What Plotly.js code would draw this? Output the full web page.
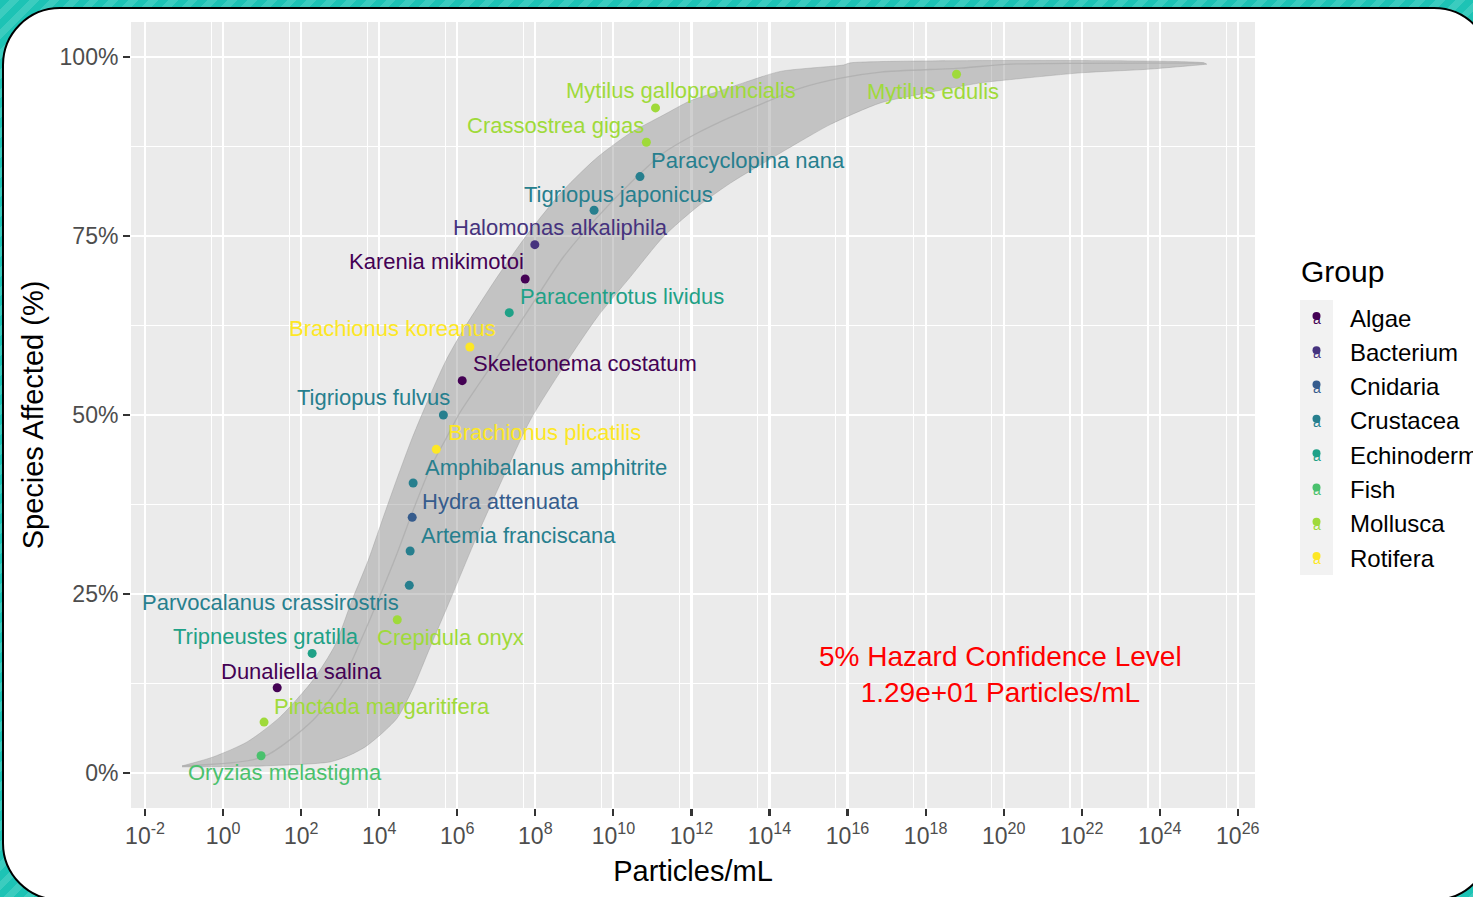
<!DOCTYPE html>
<html><head><meta charset="utf-8">
<script src="https://cdn.plot.ly/plotly-3.0.1.min.js"></script>
<style>
html,body{margin:0;padding:0;width:1473px;height:897px;overflow:hidden;}
body{background:repeating-linear-gradient(135deg,#1dc3b5 0px,#1dc3b5 7px,#3bccbf 7px,#3bccbf 14px);}
#frame{position:absolute;left:2px;top:7px;width:1490px;height:894px;box-sizing:border-box;border:2.5px solid #000;border-radius:58px;background:#fff;}
#chart{position:absolute;left:0;top:0;width:1473px;height:897px;}
</style></head><body>
<div id="frame"></div><div id="chart"></div>
<script>
// ---------- data ----------
const species = ['Oryzias melastigma','Pinctada margaritifera','Dunaliella salina','Tripneustes gratilla','Crepidula onyx','Parvocalanus crassirostris','Artemia franciscana','Hydra attenuata','Amphibalanus amphitrite','Brachionus plicatilis','Tigriopus fulvus','Skeletonema costatum','Brachionus koreanus','Paracentrotus lividus','Karenia mikimotoi','Halomonas alkaliphila','Tigriopus japonicus','Paracyclopina nana','Crassostrea gigas','Mytilus galloprovincialis','Mytilus edulis'];
const groups = ['Fish','Mollusca','Algae','Echinoderm','Mollusca','Crustacea','Crustacea','Cnidaria','Crustacea','Rotifera','Crustacea','Algae','Rotifera','Echinoderm','Algae','Bacterium','Crustacea','Crustacea','Mollusca','Mollusca','Mollusca'];
const concentration = [9.4, 11.2, 24.3, 191, 2.9e4, 5.9e4, 6.2e4, 7.0e4, 7.4e4, 2.9e5, 4.4e5, 1.34e6, 2.1e6, 2.15e7, 5.5e7, 9.7e7, 3.2e9, 4.8e10, 7.0e10, 1.2e11, 6.2e18];
const fractionAffected = [0.024, 0.071, 0.119, 0.167, 0.214, 0.262, 0.310, 0.357, 0.405, 0.452, 0.500, 0.548, 0.595, 0.643, 0.690, 0.738, 0.786, 0.833, 0.881, 0.929, 0.976];

const groupOrder = ['Algae','Bacterium','Cnidaria','Crustacea','Echinoderm','Fish','Mollusca','Rotifera'];
const groupColors = ['#440154','#46337E','#365C8D','#277F8E','#1FA187','#4AC16D','#9FDA3A','#FDE725'];

// confidence band (log10 of Particles/mL) and fitted curve
const bandUpperLog10 = [-1.051,-0.256,0.615,1.462,2.308,2.872,3.308,3.718,4.077,4.462,4.846,5.308,5.718,6.154,7.026,7.872,8.718,9.590,10.436,11.282,11.974,12.744,13.385,14.282,15.897,16.077,25.128,25.205];
const bandUpperY     = [0.0098,0.0223,0.0433,0.0782,0.130,0.179,0.242,0.297,0.353,0.412,0.468,0.528,0.577,0.619,0.693,0.758,0.814,0.860,0.894,0.919,0.939,0.953,0.965,0.980,0.989,0.992,0.992,0.990];
const bandLowerLog10 = [-1.051,1.026,2.744,3.256,3.641,4.026,4.462,4.872,5.308,5.821,6.513,7.179,7.872,8.718,9.590,10.436,11.282,12.154,13.0,13.846,14.718,15.564,16.846,18.128,19.410,20.256,21.974,23.692,25.205];
const bandLowerY     = [0.0084,0.0098,0.0154,0.0251,0.0363,0.0531,0.0768,0.119,0.176,0.242,0.332,0.413,0.493,0.567,0.637,0.693,0.749,0.791,0.824,0.852,0.880,0.906,0.936,0.951,0.964,0.969,0.978,0.983,0.990];
const fitLog10 = [-1.051,1.026,2.308,3.0,3.590,4.026,4.462,4.872,5.308,5.692,6.077,6.538,7.026,7.872,8.718,9.590,10.436,11.282,12.154,13.0,13.846,14.795,15.821,16.846,18.897,20.179,25.128];
const fitY     = [0.0098,0.0223,0.0740,0.1229,0.1927,0.2486,0.3073,0.3673,0.4260,0.4651,0.5042,0.5419,0.5810,0.6508,0.7207,0.7765,0.8240,0.8659,0.8939,0.9162,0.9358,0.9567,0.9707,0.9791,0.9846,0.9902,0.9916];

const xTickExponents = [-2,0,2,4,6,8,10,12,14,16,18,20,22,24,26];
const xMinorExponents = [-1,1,3,5,7,9,11,13,15,17,19,21,23,25];
const yTickValues = [0,0.25,0.5,0.75,1];
const yTickLabels = ['0%','25%','50%','75%','100%'];
const yMinorValues = [0.125,0.375,0.625,0.875];
const hazardLines = ['5% Hazard Confidence Level','1.29e+01 Particles/mL'];
const hazardPosLog10 = 19.92, hazardPosY = 0.138;

// label placement offsets (pixels) relative to each point
const labelShiftX = [24,118,24,-46,53,-139,108,88,133,108,-70,123,-77,113,-89,26,24,108,-91,25,-24];
const labelShiftY = [-17,16,16,17,-18,-17,16,16,16,17,18,17,18,16,17,17,16,16,17,17,-17];

// ---------- build ----------
const colorOf = g => groupColors[groupOrder.indexOf(g)];
const pow10 = v => Math.pow(10, v);

const traces = [];
traces.push({
  x: bandUpperLog10.map(pow10).concat(bandLowerLog10.slice().reverse().map(pow10)),
  y: bandUpperY.concat(bandLowerY.slice().reverse()),
  mode: 'lines', fill: 'toself', fillcolor: 'rgba(140,140,140,0.42)',
  line: {color: 'rgba(140,140,140,0.35)', width: 1, shape: 'spline', smoothing: 0.7},
  hoverinfo: 'skip', showlegend: false
});
traces.push({
  x: fitLog10.map(pow10), y: fitY, mode: 'lines',
  line: {color: 'rgba(172,172,172,0.75)', width: 1.3, shape: 'spline', smoothing: 0.7},
  hoverinfo: 'skip', showlegend: false
});
groupOrder.forEach((g, gi) => {
  const idx = groups.map((v, i) => v === g ? i : -1).filter(i => i >= 0);
  traces.push({
    x: idx.map(i => concentration[i]), y: idx.map(i => fractionAffected[i]),
    mode: 'markers', name: g, marker: {color: groupColors[gi], size: 9},
    showlegend: false, hoverinfo: 'text', text: idx.map(i => species[i])
  });
});

const L = 131, R = 1255, T = 22, B = 808;
const px2paperX = px => (px - L) / (R - L);
const px2paperY = py => (B - py) / (B - T);

const annotations = species.map((s, i) => ({
  x: Math.log10(concentration[i]), y: fractionAffected[i], xref: 'x', yref: 'y',
  text: s, showarrow: false, xanchor: 'center', yanchor: 'middle',
  xshift: labelShiftX[i], yshift: labelShiftY[i],
  font: {size: 22, color: colorOf(groups[i])}
}));
annotations.push({
  x: hazardPosLog10, y: hazardPosY, xref: 'x', yref: 'y', showarrow: false,
  text: hazardLines.join('<br>'), align: 'center', xanchor: 'center', yanchor: 'middle',
  font: {size: 28, color: '#ff0000'}
});
// legend (drawn manually to mimic ggplot's key)
annotations.push({
  x: px2paperX(1299), y: px2paperY(271), xref: 'paper', yref: 'paper', showarrow: false,
  text: 'Group', xanchor: 'left', yanchor: 'middle', font: {size: 30, color: '#000'}
});
const shapes = [{
  type: 'rect', xref: 'paper', yref: 'paper', layer: 'above',
  x0: px2paperX(1300), x1: px2paperX(1333), y0: px2paperY(575), y1: px2paperY(300),
  fillcolor: '#f2f2f2', line: {width: 0}
}];
groupOrder.forEach((g, gi) => {
  const cy = 318 + gi * 34.29;
  shapes.push({
    type: 'circle', xref: 'paper', yref: 'paper', layer: 'above',
    xsizemode: 'pixel', ysizemode: 'pixel',
    xanchor: px2paperX(1316.5), yanchor: px2paperY(cy - 2),
    x0: -4, x1: 4, y0: -4, y1: 4, fillcolor: groupColors[gi], line: {width: 0}
  });
  annotations.push({
    x: px2paperX(1317), y: px2paperY(cy + 1), xref: 'paper', yref: 'paper', showarrow: false,
    text: 'a', xanchor: 'center', yanchor: 'middle', font: {size: 14, color: groupColors[gi]}
  });
  annotations.push({
    x: px2paperX(1348), y: px2paperY(cy), xref: 'paper', yref: 'paper', showarrow: false,
    text: g, xanchor: 'left', yanchor: 'middle', font: {size: 24, color: '#000'}
  });
});

const layout = {
  width: 1473, height: 897,
  margin: {l: L, r: 1473 - R, t: T, b: 897 - B},
  paper_bgcolor: 'rgba(0,0,0,0)', plot_bgcolor: '#ebebeb',
  font: {family: 'Liberation Sans, Arial, Helvetica, sans-serif', color: '#000'},
  showlegend: false,
  xaxis: {
    type: 'log', range: [-2.36, 26.44], autorange: false,
    tickmode: 'array', tickvals: xTickExponents.map(pow10),
    ticktext: xTickExponents.map(e => '10<sup>' + e + '</sup>'),
    ticks: 'outside', ticklen: 7, tickwidth: 2.2, tickcolor: '#333333',
    tickfont: {size: 23, color: '#4d4d4d'},
    showgrid: true, gridcolor: '#ffffff', gridwidth: 2.2, zeroline: false, showline: false,
    minor: {tickmode: 'array', tickvals: xMinorExponents.map(e => 5 * pow10(e)), showgrid: true, gridcolor: '#ffffff', gridwidth: 1.1, ticks: ''},
    title: {text: 'Particles/mL', font: {size: 29, color: '#000'}, standoff: 13}
  },
  yaxis: {
    range: [-0.049, 1.049], autorange: false,
    tickmode: 'array', tickvals: yTickValues, ticktext: yTickLabels,
    ticks: 'outside', ticklen: 7, tickwidth: 2.2, tickcolor: '#333333',
    tickfont: {size: 23, color: '#4d4d4d'},
    showgrid: true, gridcolor: '#ffffff', gridwidth: 2.2, zeroline: false, showline: false,
    minor: {tickmode: 'array', tickvals: yMinorValues, showgrid: true, gridcolor: '#ffffff', gridwidth: 1.1, ticks: ''},
    title: {text: 'Species Affected (%)', font: {size: 29, color: '#000'}, standoff: 7}
  },
  annotations: annotations,
  shapes: shapes
};

Plotly.newPlot('chart', traces, layout, {displayModeBar: false, staticPlot: true});
</script></body></html>
